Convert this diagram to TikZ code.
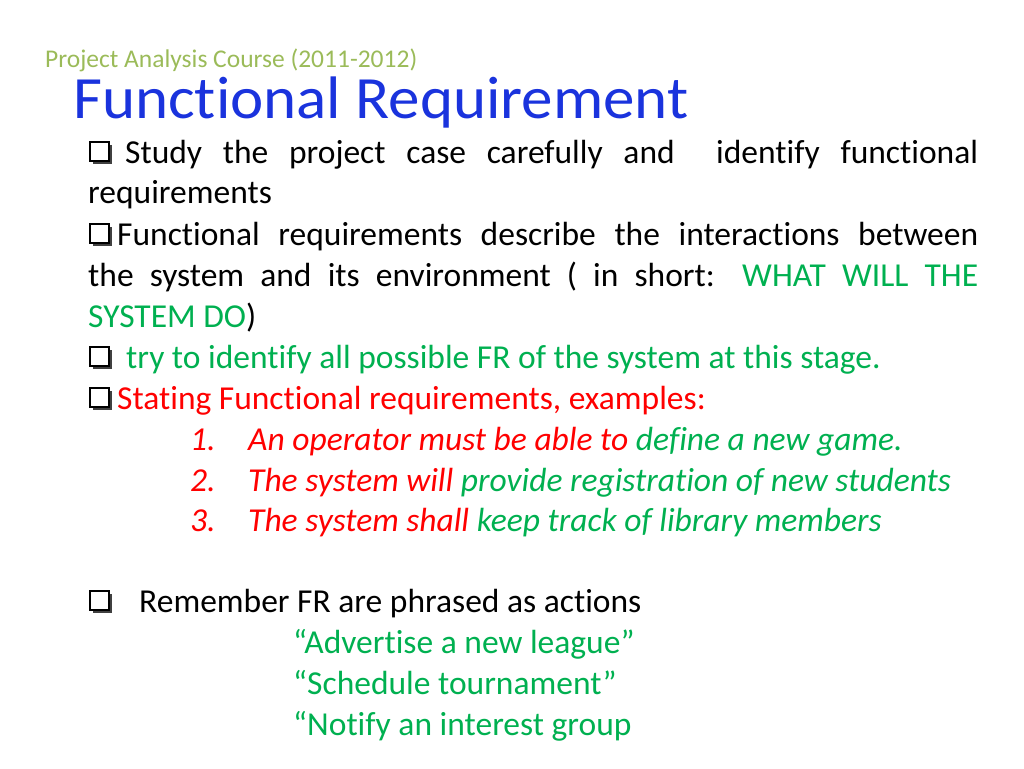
\documentclass[tikz,border=0pt]{standalone}
\usepackage{fontspec}
\setmainfont{Carlito}[Ligatures=NoCommon]
\definecolor{hdr}{HTML}{9BBB59}
\definecolor{grn}{HTML}{00B050}
\definecolor{red}{HTML}{FF0000}
\definecolor{ttl}{HTML}{1A33DD}
\begin{document}
\begin{tikzpicture}[x=1pt,y=-1pt,
  t/.style={anchor=base west,inner sep=0pt,font=\fontsize{33.5}{36}\selectfont},
  bul/.pic={\fill[black!75] (3,-18) rectangle (22,1); \draw[fill=white,line width=1.5pt] (0,-21) rectangle (19,-2);}]
\useasboundingbox (0,0) rectangle (1024,768);
\node[t,font=\fontsize{25.5}{27}\selectfont,text=hdr] (h) at (45,67) {Project Analysis Course (2011-2012)};
\node[t,font=\fontsize{60}{62}\selectfont,text=ttl,xscale=1.05] (ti) at (73,118) {Functional Requirement};
\pic at (90,163) {bul};
\node[t] (l1) at (125,163) {\makebox[853pt][s]{Study the project case carefully and \ identify functional}};
\node[t] (l2) at (88,203) {requirements};
\pic at (90,245) {bul};
\node[t] (l3) at (117,245) {\makebox[861pt][s]{Functional requirements describe the interactions between}};
\node[t] (l4) at (88,286) {\makebox[890pt][s]{the system and its environment ( in short: \textcolor{grn}{WHAT WILL THE}}};
\node[t] (l5) at (88,327) {\textcolor{grn}{SYSTEM DO})};
\pic at (90,368) {bul};
\node[t,text=grn] (l6) at (126,368) {try to identify all possible FR of the system at this stage.};
\pic at (90,409) {bul};
\node[t,text=red] (l7) at (117,409) {Stating Functional requirements, examples:};
\foreach \n/\y in {1/450,2/491,3/531} \node[t,text=red] (n\n) at (190,\y) {\itshape\n.};
\node[t,text=red] (e1) at (248,450) {\itshape An operator must be able to \textcolor{grn}{define a new game.}};
\node[t,text=red] (e2) at (248,491) {\itshape The system will \textcolor{grn}{provide registration of new students}};
\node[t,text=red] (e3) at (248,531) {\itshape The system shall \textcolor{grn}{keep track of library members}};
\pic at (90,612) {bul};
\node[t] (r) at (139,612) {Remember FR are phrased as actions};
\node[t,text=grn] (q1) at (293,653) {“Advertise a new league”};
\node[t,text=grn] (q2) at (293,694) {“Schedule tournament”};
\node[t,text=grn] (q3) at (293,735) {“Notify an interest group};
\end{tikzpicture}
\end{document}
